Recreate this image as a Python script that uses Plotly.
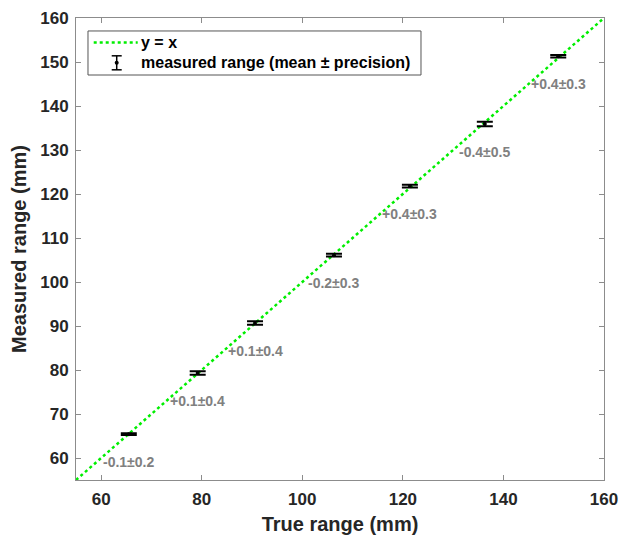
import plotly.graph_objects as go

# Calibration targets: true range (mm), mean error (mm) and precision (mm, 1 sigma)
true_range = [65.5, 79.2, 90.6, 106.3, 121.4, 136.3, 150.9]
mean_error = [-0.1, 0.1, 0.1, -0.2, 0.4, -0.4, 0.4]
precision = [0.2, 0.4, 0.4, 0.3, 0.3, 0.5, 0.3]

# Ideal response line spans the full axis range
identity_span = [55, 160]
x_ticks = [60, 80, 100, 120, 140, 160]
y_ticks = [60, 70, 80, 90, 100, 110, 120, 130, 140, 150, 160]

legend_names = ["y = x", "measured range (mean \u00b1 precision)"]

measured = [round(t + e, 2) for t, e in zip(true_range, mean_error)]
labels = [f"{e:+.1f}\u00b1{p:.1f}" for e, p in zip(mean_error, precision)]

FONT = "Liberation Sans, Arial, sans-serif"
AX_COLOR = "#8c8c8c"
TXT_COLOR = "#262626"
GREEN = "#00ee00"

fig = go.Figure()

fig.add_trace(go.Scatter(
    x=identity_span, y=identity_span,
    mode="lines",
    name=legend_names[0],
    line=dict(color=GREEN, width=2.5, dash="dot"),
    showlegend=False,
))

fig.add_trace(go.Scatter(
    x=true_range, y=measured,
    mode="markers",
    name=legend_names[1],
    marker=dict(color="black", size=4),
    error_y=dict(type="data", array=precision, visible=True,
                 color="black", thickness=2, width=8),
    showlegend=False,
))

for x, y, txt in zip(true_range, measured, labels):
    fig.add_annotation(
        x=x, y=y, text=txt, showarrow=False, yshift=-28,
        font=dict(family=FONT, size=14, color="#808080", weight="bold"),
    )

# Legend box drawn by hand so the entry icons can show the error-bar glyph
leg_x0, leg_x1 = 0.0227, 0.6534
leg_y0, leg_y1 = 0.8766, 0.9719
row_y = [0.9470, 0.9030]
icon_x = 0.0771
text_x = 0.1244

fig.add_shape(type="rect", xref="paper", yref="paper",
              x0=leg_x0, x1=leg_x1, y0=leg_y0, y1=leg_y1,
              line=dict(color="#555555", width=1), fillcolor="white", layer="above")
# entry 1: dotted green line sample
fig.add_shape(type="line", xref="paper", yref="paper",
              xsizemode="pixel", xanchor=icon_x, x0=-23, x1=21,
              y0=row_y[0], y1=row_y[0],
              line=dict(color=GREEN, width=2.5, dash="dot"), layer="above")
# entry 2: error-bar glyph (stem, caps, centre dot)
fig.add_shape(type="line", xref="paper", yref="paper",
              xsizemode="pixel", xanchor=icon_x, x0=0, x1=0,
              ysizemode="pixel", yanchor=row_y[1], y0=-7, y1=7,
              line=dict(color="black", width=1.5), layer="above")
for dy in (-7, 7):
    fig.add_shape(type="line", xref="paper", yref="paper",
                  xsizemode="pixel", xanchor=icon_x, x0=-5, x1=5,
                  ysizemode="pixel", yanchor=row_y[1], y0=dy, y1=dy,
                  line=dict(color="black", width=1.5), layer="above")
fig.add_shape(type="circle", xref="paper", yref="paper",
              xsizemode="pixel", xanchor=icon_x, x0=-2, x1=2,
              ysizemode="pixel", yanchor=row_y[1], y0=-2, y1=2,
              fillcolor="black", line=dict(color="black", width=0), layer="above")
for ry, name in zip(row_y, legend_names):
    fig.add_annotation(
        xref="paper", yref="paper", x=text_x, y=ry, text=name,
        xanchor="left", yanchor="middle", showarrow=False, xshift=-3,
        font=dict(family=FONT, size=16, color="black", weight="bold"),
    )

axis_common = dict(
    range=identity_span,
    automargin=False,
    showline=True, mirror="ticks", linecolor=AX_COLOR, linewidth=1,
    ticks="inside", ticklen=5, tickcolor=AX_COLOR,
    showgrid=False, zeroline=False,
    tickfont=dict(family=FONT, size=17, color=TXT_COLOR, weight="bold"),
)

fig.update_xaxes(
    **axis_common,
    tickvals=x_ticks,
    ticklabelstandoff=4,
    title=dict(text="True range (mm)", standoff=8,
               font=dict(family=FONT, size=20, color=TXT_COLOR, weight="bold")),
)
fig.update_yaxes(
    **axis_common,
    tickvals=y_ticks,
    ticklabelstandoff=3,
    title=dict(text="Measured range (mm)", standoff=8,
               font=dict(family=FONT, size=20, color=TXT_COLOR, weight="bold")),
)

fig.update_layout(
    width=630, height=536,
    margin=dict(l=76, r=26, t=18, b=56),
    paper_bgcolor="white", plot_bgcolor="white",
    showlegend=False,
)

fig.write_html("out.html")
